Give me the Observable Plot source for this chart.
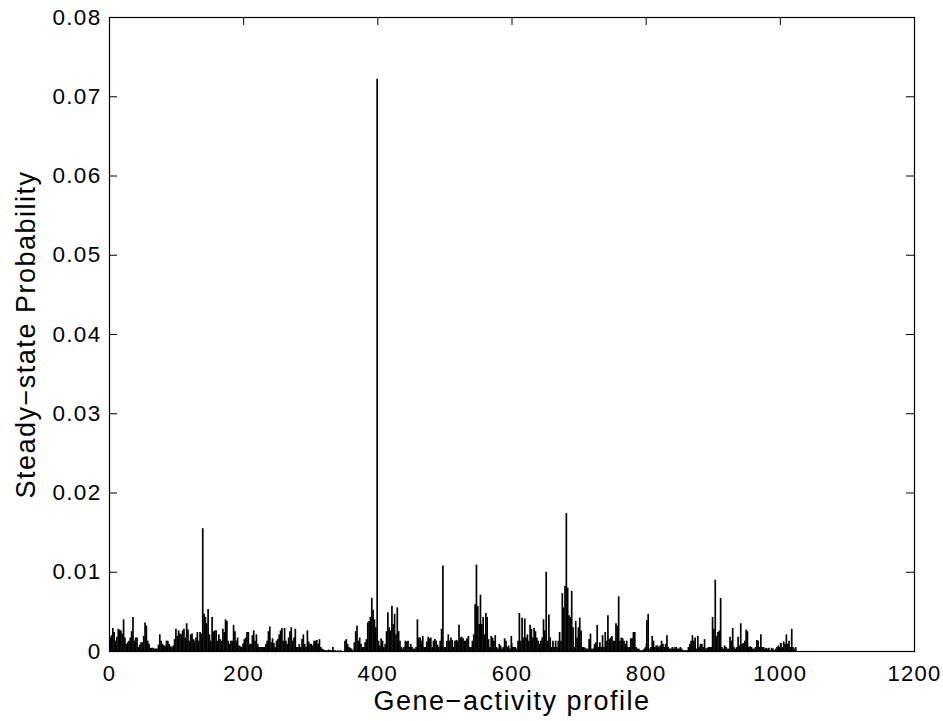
<!DOCTYPE html>
<html><head><meta charset="utf-8">
<script src="https://cdn.jsdelivr.net/npm/d3@7"></script>
<script src="https://cdn.jsdelivr.net/npm/@observablehq/plot@0.6"></script>
<style>
html,body{margin:0;padding:0;background:#fff}
svg g[aria-label="x-axis tick label"] text, svg g[aria-label="y-axis tick label"] text {letter-spacing: 1.3px;}
svg g[aria-label="text"] text {letter-spacing: 1.5px;}
</style>
</head><body><div id="chart"></div>
<script>
// Gene-activity profiles (odd-numbered states 1..1023, one per pair)
const profiles = d3.range(1, 1024, 2);
// Steady-state probability
const probability = [
.0017,.0020,.0029,.0024,.0013,.0018,.0028,.0027,.0026,.0022,.0040,.0017,.0009,.0011,.0013,.0017,.0025,.0043,.0013,.0017,.0017,.0005,.0008,.0011,.0011,
.0019,.0036,.0032,.0013,.0009,.0004,.0004,.0004,.0003,.0003,.0003,.0008,.0021,.0013,.0009,.0007,.0007,.0013,.0013,.0009,.0006,.0005,.0007,.0015,.0028,
.0019,.0026,.0022,.0021,.0026,.0028,.0017,.0035,.0027,.0013,.0021,.0022,.0015,.0013,.0017,.0024,.0013,.0024,.0022,.0155,.0047,.0043,.0035,.0053,.0021,
.0013,.0043,.0025,.0026,.0026,.0013,.0021,.0015,.0013,.0028,.0024,.0040,.0038,.0013,.0009,.0013,.0013,.0033,.0025,.0013,.0017,.0007,.0006,.0005,.0009,
.0015,.0017,.0024,.0024,.0009,.0009,.0020,.0026,.0013,.0021,.0009,.0005,.0005,.0005,.0005,.0005,.0009,.0013,.0025,.0031,.0011,.0016,.0010,.0005,.0013,
.0015,.0021,.0026,.0029,.0013,.0029,.0013,.0009,.0017,.0025,.0030,.0013,.0017,.0028,.0005,.0005,.0009,.0005,.0015,.0021,.0009,.0005,.0026,.0012,.0009,
.0009,.0007,.0013,.0013,.0014,.0009,.0015,.0005,.0003,.0002,.0001,.0001,.0001,.0002,.0001,.0001,.0005,.0001,.0001,0,.0001,0,.0001,0,0,
.0013,.0015,.0009,.0005,.0004,.0003,.0001,.0011,.0025,.0032,.0013,.0017,.0009,.0005,.0005,.0011,.0015,.0036,.0038,.0043,.0067,.0052,.0040,.0030,.0722,
.0013,.0007,.0016,.0013,.0005,.0009,.0025,.0049,.0030,.0026,.0057,.0034,.0047,.0021,.0055,.0025,.0013,.0005,.0003,.0005,.0013,.0012,.0013,.0005,.0009,
.0005,.0003,.0003,.0005,.0040,.0017,.0017,.0013,.0019,.0005,.0005,.0012,.0018,.0016,.0017,.0005,.0013,.0015,.0013,.0008,.0005,.0013,.0028,.0108,.0005,
.0005,.0013,.0021,.0013,.0017,.0014,.0005,.0013,.0014,.0013,.0033,.0017,.0018,.0016,.0013,.0013,.0016,.0019,.0005,.0005,.0013,.0021,.0059,.0109,.0057,
.0034,.0071,.0034,.0043,.0021,.0048,.0043,.0015,.0005,.0019,.0017,.0013,.0020,.0005,.0003,.0009,.0007,.0003,.0005,.0016,.0013,.0005,.0007,.0003,.0019,
.0005,.0005,.0005,.0003,.0013,.0048,.0013,.0042,.0017,.0041,.0017,.0021,.0013,.0033,.0028,.0017,.0029,.0025,.0017,.0013,.0009,.0013,.0017,.0040,.0026,
.0100,.0013,.0046,.0017,.0005,.0013,.0005,.0013,.0005,.0013,.0024,.0013,.0073,.0055,.0082,.0174,.0080,.0045,.0043,.0076,.0030,.0005,.0038,.0017,.0030,
.0042,.0026,.0005,.0005,.0004,.0003,.0003,.0015,.0022,.0003,.0003,.0009,.0011,.0033,.0005,.0011,.0005,.0020,.0005,.0024,.0013,.0045,.0015,.0017,.0019,
.0013,.0013,.0035,.0032,.0069,.0013,.0017,.0016,.0013,.0009,.0013,.0005,.0005,.0016,.0016,.0024,.0024,.0005,.0003,.0003,.0001,.0001,.0001,.0003,.0005,
.0039,.0047,.0003,.0005,.0019,.0013,.0005,.0007,.0007,.0005,.0007,.0013,.0009,.0005,.0009,.0020,.0005,.0003,.0003,.0005,.0003,.0005,.0005,.0003,.0003,
.0005,.0003,.0001,.0001,.0001,.0001,.0005,.0009,.0013,.0020,.0013,.0017,.0003,.0019,.0005,.0009,.0009,.0005,.0015,.0003,.0004,.0005,.0005,.0005,.0043,
.0028,.0090,.0019,.0024,.0026,.0067,.0005,.0003,.0007,.0005,.0003,.0003,.0018,.0013,.0029,.0005,.0003,.0005,.0018,.0007,.0035,.0009,.0010,.0013,.0027,
.0025,.0005,.0006,.0005,.0003,.0003,.0005,.0014,.0013,.0005,.0021,.0005,.0005,.0003,.0004,.0003,.0004,.0001,.0004,.0003,.0001,.0003,.0005,.0007,.0005,
.0010,.0005,.0012,.0009,.0021,.0009,.0013,.0005,.0028,.0005,.0003,.0005
];
const xTicks = [0, 200, 400, 600, 800, 1000, 1200];
const yTicks = [0, 0.01, 0.02, 0.03, 0.04, 0.05, 0.06, 0.07, 0.08];
const yTickLabels = ["0", "0.01", "0.02", "0.03", "0.04", "0.05", "0.06", "0.07", "0.08"];
const xLabel = "Gene\u2212activity profile";
const yLabel = "Steady\u2212state Probability";

const data = profiles.map((p, i) => ({profile: p, prob: probability[i]}));

const W = 943, H = 721;
const mL = 109, mR = 29, mT = 17, mB = 70;
const xDom = [0, 1200], yDom = [0, 0.08];
const tickPx = 8;
const tlY = tickPx / (H - mT - mB) * (yDom[1] - yDom[0]);
const tlX = tickPx / (W - mL - mR) * (xDom[1] - xDom[0]);
const font = "'Liberation Sans', Arial, Helvetica, sans-serif";

const chart = Plot.plot({
  width: W, height: H,
  marginLeft: mL, marginRight: mR, marginTop: mT, marginBottom: mB,
  style: {fontFamily: font, fontSize: "22px", color: "black", background: "white", overflow: "visible"},
  x: {domain: xDom},
  y: {domain: yDom},
  marks: [
    Plot.ruleX(data, {x: "profile", y1: 0, y2: "prob", stroke: "black", strokeWidth: 1.7}),
    Plot.frame({stroke: "black", strokeWidth: 1.2}),
    Plot.ruleX(xTicks, {x: d => d, y1: yDom[0], y2: yDom[0] + tlY, stroke: "black"}),
    Plot.ruleX(xTicks, {x: d => d, y1: yDom[1] - tlY, y2: yDom[1], stroke: "black"}),
    Plot.ruleY(yTicks, {y: d => d, x1: xDom[0], x2: xDom[0] + tlX, stroke: "black"}),
    Plot.ruleY(yTicks, {y: d => d, x1: xDom[1] - tlX, x2: xDom[1], stroke: "black"}),
    Plot.axisX(xTicks, {anchor: "bottom", tickSize: 0, tickPadding: 14, tickFormat: d => String(d), label: null, fontSize: 22}),
    Plot.axisY(yTicks, {anchor: "left", tickSize: 0, tickPadding: 8, tickFormat: (d, i) => yTickLabels[i], label: null, fontSize: 22.5}),
    Plot.text([xLabel], {frameAnchor: "bottom", textAnchor: "middle", lineAnchor: "middle", dy: 50, fontSize: 27, fill: "black"}),
    Plot.text([yLabel], {frameAnchor: "left", textAnchor: "middle", lineAnchor: "middle", dx: -83, rotate: -90, fontSize: 27, fill: "black"})
  ]
});
document.getElementById("chart").appendChild(chart);
</script>
</body></html>
